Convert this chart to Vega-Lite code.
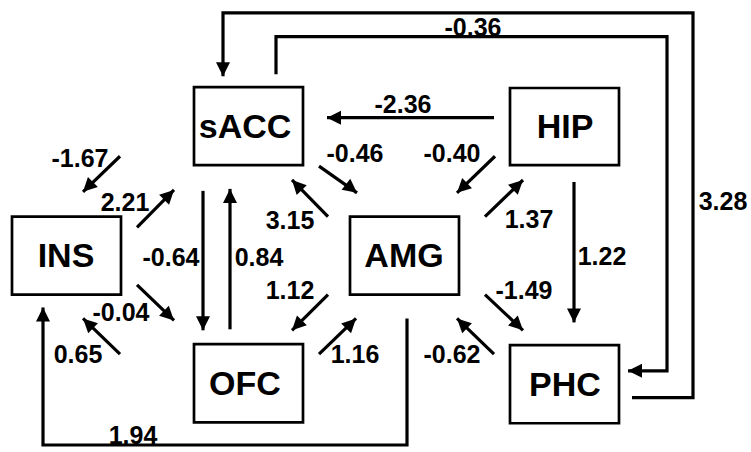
{
  "$schema": "https://vega.github.io/schema/vega-lite/v6.json",
  "width": 751,
  "height": 452,
  "autosize": {"type": "fit", "contains": "padding"},
  "padding": 0,
  "background": "white",
  "config": {"view": {"stroke": null}},
  "datasets": {
    "boxes": [
      {"name": "sACC", "x": 194, "x2": 303, "y": 88, "y2": 167, "cx": 245, "cy": 129},
      {"name": "HIP", "x": 510, "x2": 619, "y": 89, "y2": 167, "cx": 565, "cy": 129},
      {"name": "INS", "x": 12, "x2": 121, "y": 219, "y2": 298, "cx": 66, "cy": 260},
      {"name": "AMG", "x": 350, "x2": 459, "y": 219, "y2": 298, "cx": 404, "cy": 260},
      {"name": "OFC", "x": 194, "x2": 303, "y": 348, "y2": 427, "cx": 245, "cy": 389},
      {"name": "PHC", "x": 510, "x2": 619, "y": 349, "y2": 428, "cx": 565, "cy": 390}
    ],
    "labels": [
      {"t": "-0.36", "x": 473, "y": 28},
      {"t": "-2.36", "x": 403, "y": 106},
      {"t": "-1.67", "x": 80, "y": 161},
      {"t": "2.21", "x": 125, "y": 205},
      {"t": "-0.46", "x": 355, "y": 156},
      {"t": "-0.40", "x": 452, "y": 156},
      {"t": "3.15", "x": 290, "y": 223},
      {"t": "1.37", "x": 529, "y": 222},
      {"t": "-0.64", "x": 171, "y": 261},
      {"t": "0.84", "x": 259, "y": 261},
      {"t": "1.22", "x": 602, "y": 260},
      {"t": "3.28", "x": 723, "y": 204},
      {"t": "1.12", "x": 290, "y": 294},
      {"t": "-1.49", "x": 524, "y": 294},
      {"t": "-0.04", "x": 121, "y": 316},
      {"t": "0.65", "x": 78, "y": 359},
      {"t": "1.16", "x": 355, "y": 359},
      {"t": "-0.62", "x": 452, "y": 359},
      {"t": "1.94", "x": 133, "y": 441}
    ],
    "arrows": [
      {"e": "-2.36", "x": 494, "y": 119, "x2": 327, "y2": 119, "angle": 270},
      {"e": "-1.67", "x": 120, "y": 158, "x2": 83, "y2": 194, "angle": 225},
      {"e": "2.21", "x": 137, "y": 230, "x2": 174, "y2": 192, "angle": 45},
      {"e": "-0.46", "x": 319, "y": 168, "x2": 357, "y2": 195, "angle": 128},
      {"e": "3.15", "x": 328, "y": 219, "x2": 292, "y2": 182, "angle": 316},
      {"e": "-0.40", "x": 495, "y": 158, "x2": 457, "y2": 195, "angle": 226},
      {"e": "1.37", "x": 485, "y": 219, "x2": 523, "y2": 182, "angle": 46},
      {"e": "1.22", "x": 574, "y": 184, "x2": 574, "y2": 326, "angle": 180},
      {"e": "-0.64", "x": 203, "y": 193, "x2": 203, "y2": 334, "angle": 180},
      {"e": "0.84", "x": 230, "y": 333, "x2": 230, "y2": 191, "angle": 0},
      {"e": "1.12", "x": 328, "y": 298, "x2": 292, "y2": 334, "angle": 225},
      {"e": "1.16", "x": 319, "y": 358, "x2": 356, "y2": 322, "angle": 45},
      {"e": "-1.49", "x": 485, "y": 298, "x2": 523, "y2": 334, "angle": 134},
      {"e": "-0.62", "x": 494, "y": 358, "x2": 457, "y2": 322, "angle": 314},
      {"e": "-0.04", "x": 137, "y": 288, "x2": 174, "y2": 324, "angle": 134},
      {"e": "0.65", "x": 120, "y": 358, "x2": 83, "y2": 322, "angle": 314}
    ],
    "paths": [
      {"id": "a", "i": 0, "x": 632, "y": 402},
      {"id": "a", "i": 1, "x": 693, "y": 402},
      {"id": "a", "i": 2, "x": 693, "y": 13},
      {"id": "a", "i": 3, "x": 223, "y": 13},
      {"id": "a", "i": 4, "x": 223, "y": 77, "angle": 180},
      {"id": "b", "i": 0, "x": 276, "y": 75},
      {"id": "b", "i": 1, "x": 276, "y": 37},
      {"id": "b", "i": 2, "x": 667, "y": 37},
      {"id": "b", "i": 3, "x": 667, "y": 375},
      {"id": "b", "i": 4, "x": 628, "y": 375, "angle": 270},
      {"id": "c", "i": 0, "x": 407, "y": 322},
      {"id": "c", "i": 1, "x": 407, "y": 450},
      {"id": "c", "i": 2, "x": 43, "y": 450},
      {"id": "c", "i": 3, "x": 43, "y": 311, "angle": 0}
    ]
  },
  "layer": [
    {
      "data": {"name": "boxes"},
      "mark": {"type": "rect", "filled": false, "stroke": "black", "strokeWidth": 2.7},
      "encoding": {
        "x": {"field": "x", "type": "quantitative", "scale": {"domain": [0, 751], "nice": false, "zero": false}, "axis": null},
        "x2": {"field": "x2"},
        "y": {"field": "y", "type": "quantitative", "scale": {"domain": [0, 452], "nice": false, "zero": false, "reverse": true}, "axis": null},
        "y2": {"field": "y2"}
      }
    },
    {
      "data": {"name": "boxes"},
      "mark": {"type": "text", "font": "Liberation Sans", "fontWeight": "bold", "fontSize": 34, "color": "black", "align": "center", "baseline": "middle"},
      "encoding": {
        "x": {"field": "cx", "type": "quantitative", "scale": {"domain": [0, 751], "nice": false, "zero": false}, "axis": null},
        "y": {"field": "cy", "type": "quantitative", "scale": {"domain": [0, 452], "nice": false, "zero": false, "reverse": true}, "axis": null},
        "text": {"field": "name"}
      }
    },
    {
      "data": {"name": "labels"},
      "mark": {"type": "text", "font": "Liberation Sans", "fontWeight": "bold", "fontSize": 25, "color": "black", "align": "center", "baseline": "middle"},
      "encoding": {
        "x": {"field": "x", "type": "quantitative", "scale": {"domain": [0, 751], "nice": false, "zero": false}, "axis": null},
        "y": {"field": "y", "type": "quantitative", "scale": {"domain": [0, 452], "nice": false, "zero": false, "reverse": true}, "axis": null},
        "text": {"field": "t"}
      }
    },
    {
      "data": {"name": "arrows"},
      "mark": {"type": "rule", "color": "black", "strokeWidth": 3.2},
      "encoding": {
        "x": {"field": "x", "type": "quantitative", "scale": {"domain": [0, 751], "nice": false, "zero": false}, "axis": null},
        "y": {"field": "y", "type": "quantitative", "scale": {"domain": [0, 452], "nice": false, "zero": false, "reverse": true}, "axis": null},
        "x2": {"field": "x2"},
        "y2": {"field": "y2"}
      }
    },
    {
      "data": {"name": "arrows"},
      "mark": {"type": "point", "shape": "M0,0L-1,2L1,2Z", "size": 196, "filled": true, "color": "black", "opacity": 1, "strokeWidth": 0},
      "encoding": {
        "x": {"field": "x2", "type": "quantitative", "scale": {"domain": [0, 751], "nice": false, "zero": false}, "axis": null},
        "y": {"field": "y2", "type": "quantitative", "scale": {"domain": [0, 452], "nice": false, "zero": false, "reverse": true}, "axis": null},
        "angle": {"field": "angle", "type": "quantitative", "scale": null}
      }
    },
    {
      "data": {"name": "paths"},
      "mark": {"type": "line", "color": "black", "strokeWidth": 3.2, "strokeJoin": "miter", "strokeCap": "butt"},
      "encoding": {
        "x": {"field": "x", "type": "quantitative", "scale": {"domain": [0, 751], "nice": false, "zero": false}, "axis": null},
        "y": {"field": "y", "type": "quantitative", "scale": {"domain": [0, 452], "nice": false, "zero": false, "reverse": true}, "axis": null},
        "detail": {"field": "id"},
        "order": {"field": "i", "type": "quantitative"}
      }
    },
    {
      "data": {"name": "paths"},
      "transform": [{"filter": "isValid(datum.angle)"}],
      "mark": {"type": "point", "shape": "M0,0L-1,2L1,2Z", "size": 196, "filled": true, "color": "black", "opacity": 1, "strokeWidth": 0},
      "encoding": {
        "x": {"field": "x", "type": "quantitative", "scale": {"domain": [0, 751], "nice": false, "zero": false}, "axis": null},
        "y": {"field": "y", "type": "quantitative", "scale": {"domain": [0, 452], "nice": false, "zero": false, "reverse": true}, "axis": null},
        "angle": {"field": "angle", "type": "quantitative", "scale": null}
      }
    }
  ]
}
